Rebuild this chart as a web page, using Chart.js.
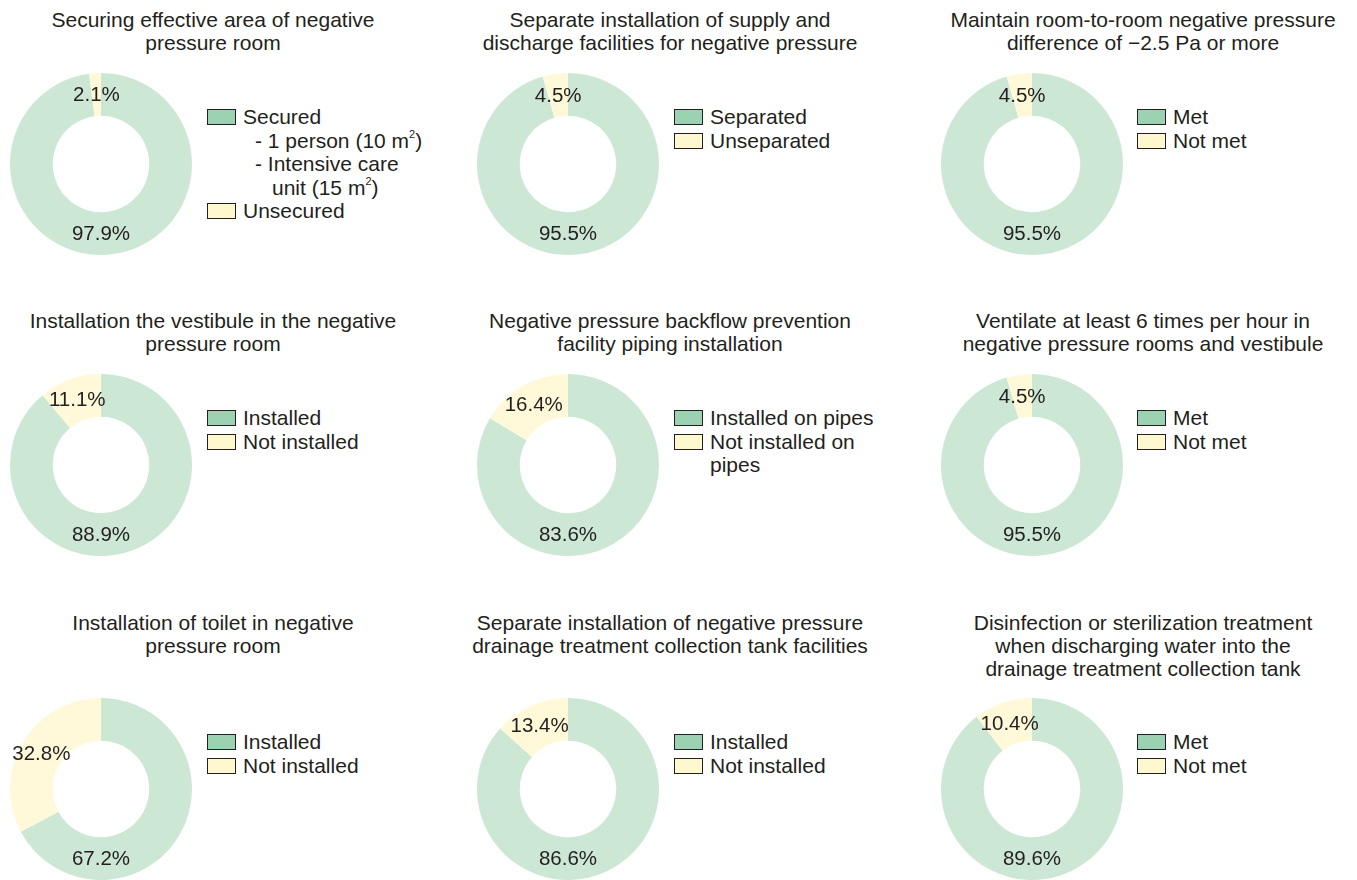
<!DOCTYPE html>
<html>
<head>
<meta charset="utf-8">
<script src="https://cdn.jsdelivr.net/npm/chart.js@4.4.1/dist/chart.umd.min.js"></script>
<style>
  body { margin: 0; background: #fff; font-family: "Liberation Sans", Arial, sans-serif; color: #231f20; }
  #page { position: relative; width: 1357px; height: 880px; overflow: hidden; }
  .title { position: absolute; width: 440px; text-align: center; font-size: 21px; line-height: 23px; }
  .ring { position: absolute; width: 182px; height: 182px; }
  .legend { position: absolute; font-size: 21px; line-height: 23.5px; }
  .legend .item { position: relative; padding-left: 36px; }
  .legend .box { position: absolute; left: 0; top: 4px; width: 27px; height: 14px; border: 1px solid #231f20; }
  .legend .item.sub { padding-left: 48px; }
  .legend .item.sub2 { padding-left: 65px; }
  sup { font-size: 11px; line-height: 0; position: relative; top: -2px; }
</style>
</head>
<body>
<div id="page"></div>
<script>
// ===== DATA =====
const titles = [
    ['Securing effective area of negative', 'pressure room'],
    ['Separate installation of supply and', 'discharge facilities for negative pressure'],
    ['Maintain room-to-room negative pressure', 'difference of \u22122.5 Pa or more'],
    ['Installation the vestibule in the negative', 'pressure room'],
    ['Negative pressure backflow prevention', 'facility piping installation'],
    ['Ventilate at least 6 times per hour in', 'negative pressure rooms and vestibule'],
    ['Installation of toilet in negative', 'pressure room'],
    ['Separate installation of negative pressure', 'drainage treatment collection tank facilities'],
    ['Disinfection or sterilization treatment', 'when discharging water into the', 'drainage treatment collection tank']
];
const metPct    = [97.9, 95.5, 95.5, 88.9, 83.6, 95.5, 67.2, 86.6, 89.6];
const notMetPct = [ 2.1,  4.5,  4.5, 11.1, 16.4,  4.5, 32.8, 13.4, 10.4];
const metLabels = ['Secured', 'Separated', 'Met', 'Installed', 'Installed on pipes', 'Met', 'Installed', 'Installed', 'Met'];
const notMetLabels = ['Unsecured', 'Unseparated', 'Not met', 'Not installed', 'Not installed on pipes', 'Not met', 'Not installed', 'Not installed', 'Not met'];
// extra lines under the first legend entry (chart 1 only)
const securedNotes = ['- 1 person (10 m<sup>2</sup>)', '- Intensive care', 'unit (15 m<sup>2</sup>)'];

const ringColors = ['#cde7d5', '#fff9d9'];
const swatchColors = ['#9bd2b1', '#fff8cf'];

// layout of the 3x3 grid
const colRing = [10, 477, 941];
const colTitle = [213, 670, 1143];
const colLegend = [207, 674, 1137];
const rowTitle = [8, 309, 611];
const rowRing = [73, 374, 698];
const rowLegend = [105, 406, 730];

const pctLabels = {
    id: 'pctLabels',
    afterDatasetsDraw(chart) {
        const ctx = chart.ctx;
        const meta = chart.getDatasetMeta(0);
        const values = chart.data.datasets[0].data;
        ctx.save();
        ctx.font = '20.5px "Liberation Sans", Arial, sans-serif';
        ctx.fillStyle = '#231f20';
        ctx.textAlign = 'center';
        ctx.textBaseline = 'middle';
        meta.data.forEach((arc, i) => {
            const p = arc.getProps(['x', 'y', 'startAngle', 'endAngle', 'innerRadius', 'outerRadius']);
            const r = (p.innerRadius + p.outerRadius) / 2;
            // the big share is labelled at the bottom of the ring, the small one at its middle
            const a = i === 0 ? Math.PI / 2 : (p.startAngle + p.endAngle) / 2;
            ctx.fillText(values[i].toFixed(1) + '%', p.x + r * Math.cos(a), p.y + r * Math.sin(a) + 1);
        });
        ctx.restore();
    }
};

const page = document.getElementById('page');

function addDiv(cls, left, top, html) {
    const d = document.createElement('div');
    d.className = cls;
    d.style.left = left + 'px';
    d.style.top = top + 'px';
    if (html) d.innerHTML = html;
    page.appendChild(d);
    return d;
}

function legendHtml(i) {
    let html = `<div class="item"><span class="box" style="background:${swatchColors[0]}"></span>${metLabels[i]}</div>`;
    if (i === 0) {
        html += `<div class="item sub">${securedNotes[0]}</div>`;
        html += `<div class="item sub">${securedNotes[1]}</div>`;
        html += `<div class="item sub2">${securedNotes[2]}</div>`;
    }
    let second = notMetLabels[i];
    if (i === 4) second = 'Not installed on<br>pipes';
    html += `<div class="item"><span class="box" style="background:${swatchColors[1]}"></span>${second}</div>`;
    return html;
}

titles.forEach((t, i) => {
    const row = Math.floor(i / 3), col = i % 3;
    addDiv('title', colTitle[col] - 220, rowTitle[row], t.join('<br>'));
    addDiv('legend', colLegend[col], rowLegend[row], legendHtml(i));
    const wrap = addDiv('ring', colRing[col], rowRing[row]);
    const canvas = document.createElement('canvas');
    wrap.appendChild(canvas);
    new Chart(canvas, {
        type: 'doughnut',
        data: {
            labels: [metLabels[i], notMetLabels[i]],
            datasets: [{ data: [metPct[i], notMetPct[i]], backgroundColor: ringColors, borderWidth: 0, hoverOffset: 0 }]
        },
        options: {
            responsive: true,
            maintainAspectRatio: false,
            animation: false,
            events: [],
            cutout: '53%',
            layout: { padding: 0 },
            plugins: { legend: { display: false }, tooltip: { enabled: false } }
        },
        plugins: [pctLabels]
    });
});
</script>
</body>
</html>
